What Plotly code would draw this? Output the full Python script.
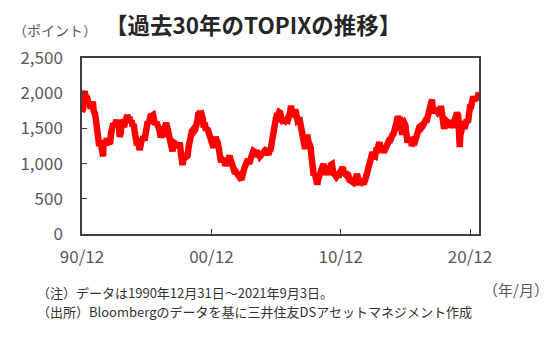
import pandas as pd
import plotly.graph_objects as go

# TOPIX month-end levels, Dec 1990 .. Aug 2021 (points)
month_end_values = [
    1733,
    1780, 2000, 1970, 1960, 1930, 1840, 1860, 1780, 1810, 1880, 1740, 1715,   # 1991
    1610, 1490, 1307, 1250, 1330, 1256, 1200, 1280, 1290, 1270, 1360, 1308,   # 1992
    1290, 1280, 1430, 1560, 1570, 1530, 1570, 1620, 1560, 1600, 1380, 1439,   # 1993
    1620, 1600, 1520, 1580, 1660, 1690, 1640, 1660, 1590, 1610, 1530, 1559,   # 1994
    1440, 1390, 1260, 1290, 1240, 1230, 1310, 1370, 1380, 1330, 1440, 1578,   # 1995
    1600, 1570, 1620, 1700, 1680, 1690, 1580, 1550, 1590, 1540, 1560, 1471,   # 1996
    1370, 1420, 1380, 1430, 1530, 1580, 1520, 1420, 1380, 1270, 1240, 1175,   # 1997
    1300, 1300, 1280, 1270, 1230, 1260, 1260, 1120, 1050, 1060, 1150, 1087,   # 1998
    1090, 1110, 1240, 1350, 1320, 1460, 1480, 1460, 1480, 1520, 1600, 1722,   # 1999
    1690, 1690, 1700, 1650, 1510, 1580, 1470, 1500, 1470, 1400, 1380, 1284,   # 2000
    1280, 1230, 1280, 1380, 1330, 1300, 1200, 1130, 1020, 1060, 1040, 1032,   # 2001
    970, 1000, 1060, 1090, 1110, 1050, 990, 970, 920, 860, 880, 843,          # 2002
    830, 830, 790, 780, 820, 900, 950, 1020, 1020, 1060, 1000, 1044,          # 2003
    1050, 1100, 1180, 1170, 1130, 1190, 1130, 1130, 1100, 1120, 1140, 1150,   # 2004
    1150, 1190, 1180, 1130, 1130, 1180, 1200, 1290, 1410, 1440, 1560, 1650,   # 2005
    1710, 1690, 1730, 1720, 1620, 1590, 1580, 1630, 1610, 1630, 1620, 1681,   # 2006
    1720, 1760, 1710, 1700, 1750, 1770, 1700, 1610, 1620, 1620, 1530, 1476,   # 2007
    1350, 1330, 1210, 1330, 1410, 1320, 1290, 1240, 1090, 870, 830, 859,      # 2008
    790, 750, 770, 840, 900, 930, 950, 990, 910, 890, 840, 908,               # 2009
    900, 890, 980, 990, 880, 840, 850, 810, 830, 810, 860, 899,               # 2010
    910, 950, 870, 850, 840, 850, 840, 770, 760, 760, 730, 729,               # 2011
    760, 840, 850, 810, 720, 770, 740, 730, 740, 740, 780, 860,               # 2012
    940, 960, 1030, 1130, 1130, 1130, 1130, 1110, 1190, 1190, 1260, 1302,     # 2013
    1220, 1210, 1200, 1160, 1200, 1260, 1290, 1280, 1330, 1330, 1410, 1408,   # 2014
    1420, 1520, 1540, 1590, 1670, 1630, 1660, 1540, 1410, 1560, 1580, 1547,   # 2015
    1430, 1300, 1350, 1340, 1380, 1250, 1320, 1330, 1320, 1390, 1470, 1519,   # 2016
    1520, 1530, 1510, 1530, 1570, 1610, 1620, 1620, 1670, 1770, 1790, 1818,   # 2017
    1836, 1770, 1716, 1777, 1747, 1730, 1753, 1735, 1817, 1646, 1667, 1494,   # 2018
    1567, 1607, 1591, 1617, 1512, 1551, 1565, 1511, 1587, 1667, 1699, 1721,   # 2019
    1684, 1510, 1403, 1464, 1563, 1558, 1496, 1618, 1625, 1579, 1754, 1805,   # 2020
    1808, 1864, 1954, 1898, 1922, 1943, 1901, 1960,                           # 2021
]

# intra-month highs / lows and the final data day
extreme_dates = ["1991-03-18", "1992-08-18", "1995-06-13", "1998-10-09",
                 "2000-02-07", "2003-04-28", "2007-02-26", "2009-03-10",
                 "2012-06-04", "2018-01-23", "2020-03-16", "2021-09-03"]
extreme_values = [2028, 1102, 1193, 980, 1754, 770, 1823, 701,
                  692, 1911, 1236, 2015]

tick_dates = ["1990-12-31", "2000-12-31", "2010-12-31", "2020-12-31"]
tick_labels = ["90/12", "00/12", "10/12", "20/12"]
y_ticks = [0, 500, 1000, 1500, 2000, 2500]
y_tick_labels = ["0", "500", "1,000", "1,500", "2,000", "2,500"]

month_dates = pd.date_range("1990-12-31", periods=len(month_end_values), freq="ME")
series = pd.concat([
    pd.Series(month_end_values, index=month_dates),
    pd.Series(extreme_values, index=pd.to_datetime(extreme_dates)),
]).sort_index()

FONT = "Meiryo, 'Noto Sans CJK JP', sans-serif"
GRAY = "#595959"

fig = go.Figure()
fig.add_trace(go.Scatter(
    x=series.index, y=series.values, mode="lines",
    line=dict(color="#FF0000", width=6.5, shape="linear"),
    hoverinfo="skip", showlegend=False,
))

fig.update_layout(
    width=551, height=348,
    margin=dict(l=82, r=72, t=58, b=114),
    paper_bgcolor="white", plot_bgcolor="white",
    font=dict(family=FONT, color=GRAY),
    showlegend=False,
    xaxis=dict(
        type="date",
        range=["1990-12-31", "2021-09-10"],
        tickmode="array", tickvals=tick_dates, ticktext=tick_labels,
        ticks="inside", ticklen=5, tickcolor="#404040", tickwidth=1.2,
        showline=True, linecolor="#404040", linewidth=1.5, mirror=True,
        showgrid=False, zeroline=False,
        tickfont=dict(size=17, color=GRAY, family=FONT),
        ticklabelstandoff=7,
    ),
    yaxis=dict(
        range=[0, 2500],
        tickmode="array", tickvals=y_ticks, ticktext=y_tick_labels,
        ticks="inside", ticklen=5, tickcolor="#404040", tickwidth=1.2,
        showline=True, linecolor="#404040", linewidth=1.5, mirror=True,
        showgrid=False, zeroline=False,
        tickfont=dict(size=17, color=GRAY, family=FONT),
        ticklabelstandoff=14,
    ),
    annotations=[
        dict(text="<b>【過去30年のTOPIXの推移】</b>", xref="paper", yref="paper",
             x=0.43, y=1.193, xanchor="center", yanchor="middle", showarrow=False,
             font=dict(size=22.5, color="#262626", family=FONT)),
        dict(text="（ポイント）", xref="paper", yref="paper",
             x=-0.068, y=1.159, xanchor="center", yanchor="middle", showarrow=False,
             font=dict(size=14, color=GRAY, family=FONT)),
        dict(text="（年/月）", xref="paper", yref="paper",
             x=1.093, y=-0.318, xanchor="center", yanchor="middle", showarrow=False,
             font=dict(size=15, color=GRAY, family=FONT)),
        dict(text="（注）データは1990年12月31日～2021年9月3日。",
             xref="paper", yref="paper", align="left",
             x=-0.118, y=-0.335, xanchor="left", yanchor="middle", showarrow=False,
             font=dict(size=13, color="#333333", family=FONT)),
        dict(text="（出所）Bloombergのデータを基に三井住友DSアセットマネジメント作成",
             xref="paper", yref="paper", align="left",
             x=-0.118, y=-0.44, xanchor="left", yanchor="middle", showarrow=False,
             font=dict(size=13, color="#333333", family=FONT)),
    ],
)

fig.write_html("out.html")
